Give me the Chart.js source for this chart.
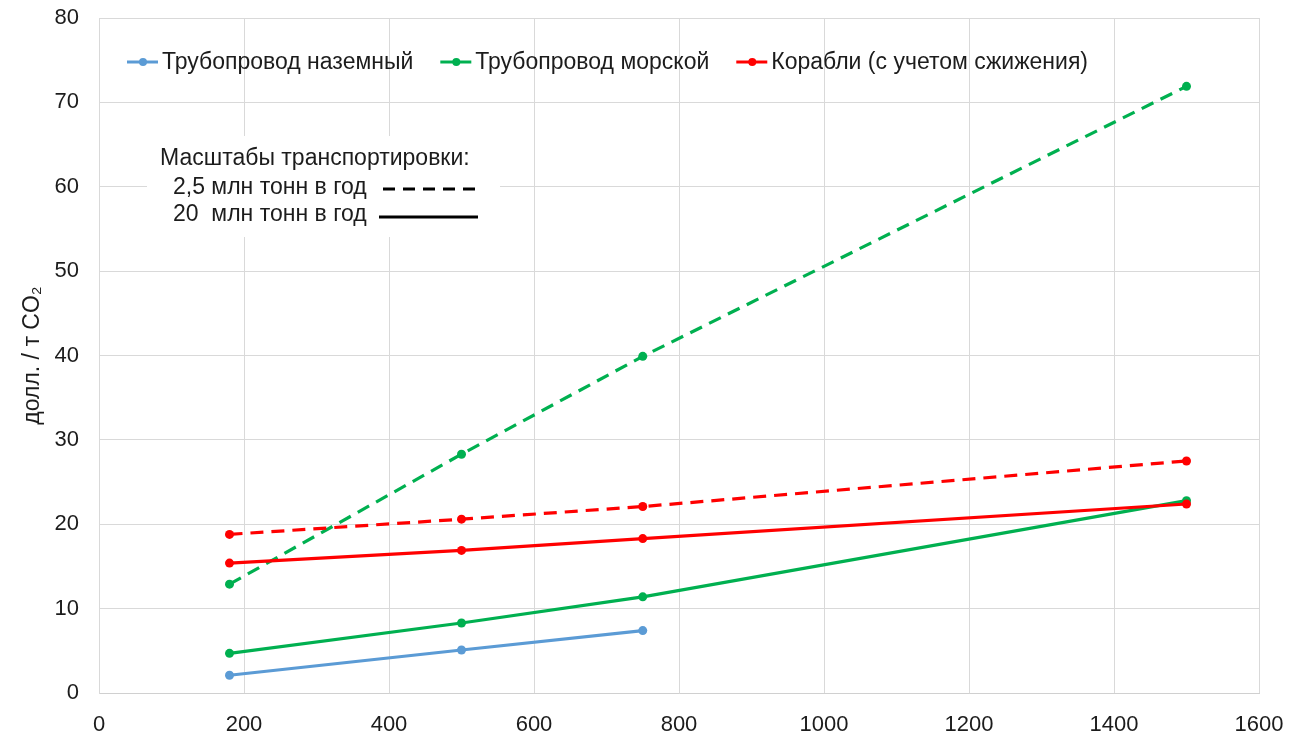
<!DOCTYPE html>
<html lang="ru">
<head>
<meta charset="utf-8">
<title>Стоимость транспортировки CO₂</title>
<script src="https://cdn.jsdelivr.net/npm/chart.js@4.4.1/dist/chart.umd.min.js"></script>
<style>
  html, body { margin: 0; padding: 0; background: #ffffff; }
  #wrap { width: 1311px; height: 735px; position: relative; }
</style>
</head>
<body>
<div id="wrap"><canvas id="chart" width="1311" height="735"></canvas></div>
<script>
// Расстояние транспортировки, км
const distances = [180, 500, 750, 1500];

// Стоимость, долл. / т CO2
const landPipe20 = [2.1, 5.1, 7.4];            // трубопровод наземный
const seaPipe25  = [12.9, 28.3, 39.9, 71.9];   // трубопровод морской, 2,5 млн т/год
const seaPipe20  = [4.7, 8.3, 11.4, 22.8];     // трубопровод морской, 20 млн т/год
const ships25    = [18.8, 20.6, 22.1, 27.5];   // корабли, 2,5 млн т/год
const ships20    = [15.4, 16.9, 18.3, 22.4];   // корабли, 20 млн т/год

const seriesNames = ['Трубопровод наземный', 'Трубопровод морской', 'Корабли (с учетом сжижения)'];
const scaleTitle = 'Масштабы транспортировки:';
const scaleNames = ['2,5 млн тонн в год', '20  млн тонн в год'];
const yTitle = 'долл. / т CO₂';

const xTicks = { min: 0, max: 1600, step: 200 };
const yTicks = { min: 0, max: 80, step: 10 };

const BLUE = '#5b9bd5';
const GREEN = '#00b050';
const RED = '#ff0000';
const FONT = '"Liberation Sans", Arial, sans-serif';
const TEXT = '#1c1c1c';
const DASH = [13, 8];

function pts(values) {
  return values.map((v, i) => ({ x: distances[i], y: v }));
}

function series(label, values, color, dashed, order, key) {
  return {
    label: label,
    data: pts(values),
    borderColor: color,
    backgroundColor: color,
    borderWidth: 3.2,
    borderDash: dashed ? DASH : [],
    pointRadius: 4.5,
    pointHoverRadius: 4.5,
    pointBorderWidth: 0,
    pointBackgroundColor: color,
    tension: 0,
    fill: false,
    order: order,
    keyEntry: key
  };
}

// Ключи: серии по цвету и масштабы по типу линии
const keyPlugin = {
  id: 'keyPlugin',
  afterDraw(chart) {
    const ctx = chart.ctx;
    ctx.save();
    ctx.font = '23px ' + FONT;
    ctx.textBaseline = 'middle';
    ctx.fillStyle = TEXT;

    // Верхний ряд: серии
    let x = 127;
    const y = 62;
    chart.data.datasets.filter(d => d.keyEntry).forEach(d => {
      ctx.strokeStyle = d.borderColor;
      ctx.lineWidth = 3;
      ctx.setLineDash([]);
      ctx.beginPath();
      ctx.moveTo(x, y);
      ctx.lineTo(x + 31, y);
      ctx.stroke();
      ctx.fillStyle = d.borderColor;
      ctx.beginPath();
      ctx.arc(x + 16, y, 4, 0, Math.PI * 2);
      ctx.fill();
      ctx.fillStyle = TEXT;
      ctx.textAlign = 'left';
      ctx.fillText(d.label, x + 35, y + 1);
      x += 35 + ctx.measureText(d.label).width + 27;
    });

    // Блок масштабов на белом фоне
    ctx.fillStyle = '#ffffff';
    ctx.fillRect(147, 136, 353, 101);
    ctx.fillStyle = TEXT;
    ctx.textAlign = 'left';
    ctx.fillText(scaleTitle, 160, 159);
    ctx.fillText(scaleNames[0], 173, 188);
    ctx.fillText(scaleNames[1], 173, 215);

    ctx.strokeStyle = '#000000';
    ctx.lineWidth = 3;
    ctx.setLineDash([12, 8]);
    ctx.beginPath();
    ctx.moveTo(383, 189);
    ctx.lineTo(475, 189);
    ctx.stroke();
    ctx.setLineDash([]);
    ctx.beginPath();
    ctx.moveTo(379, 217);
    ctx.lineTo(478, 217);
    ctx.stroke();
    ctx.restore();
  }
};

new Chart(document.getElementById('chart'), {
  type: 'line',
  data: {
    datasets: [
      series(seriesNames[0], landPipe20, BLUE, false, 5, true),
      series(seriesNames[1], seaPipe25, GREEN, true, 4, false),
      series(seriesNames[1], seaPipe20, GREEN, false, 3, true),
      series(seriesNames[2], ships25, RED, true, 2, false),
      series(seriesNames[2], ships20, RED, false, 1, true)
    ]
  },
  options: {
    responsive: false,
    animation: false,
    events: [],
    layout: { padding: { left: 0, top: 18, right: 52, bottom: 0 } },
    plugins: {
      legend: { display: false },
      tooltip: { enabled: false }
    },
    scales: {
      x: {
        type: 'linear',
        min: xTicks.min,
        max: xTicks.max,
        afterFit(s) { s.height = 42; s.paddingLeft = 0; s.paddingRight = 0; },
        ticks: {
          stepSize: xTicks.step,
          padding: 19,
          color: TEXT,
          font: { family: FONT, size: 22 },
          callback: v => String(v)
        },
        grid: { color: '#d9d9d9', lineWidth: 1, drawTicks: false },
        border: { color: '#d0d0d0', width: 1 }
      },
      y: {
        type: 'linear',
        min: yTicks.min,
        max: yTicks.max,
        afterFit(s) { s.width = 99; s.paddingTop = 0; s.paddingBottom = 0; },
        ticks: {
          stepSize: yTicks.step,
          padding: 20,
          color: TEXT,
          font: { family: FONT, size: 22 },
          callback: v => String(v)
        },
        grid: { color: '#d9d9d9', lineWidth: 1, drawTicks: false },
        border: { color: '#d9d9d9', width: 1 },
        title: {
          display: true,
          text: yTitle,
          color: TEXT,
          font: { family: FONT, size: 23 },
          padding: { top: 19, bottom: 0 }
        }
      }
    }
  },
  plugins: [keyPlugin]
});
</script>
</body>
</html>
